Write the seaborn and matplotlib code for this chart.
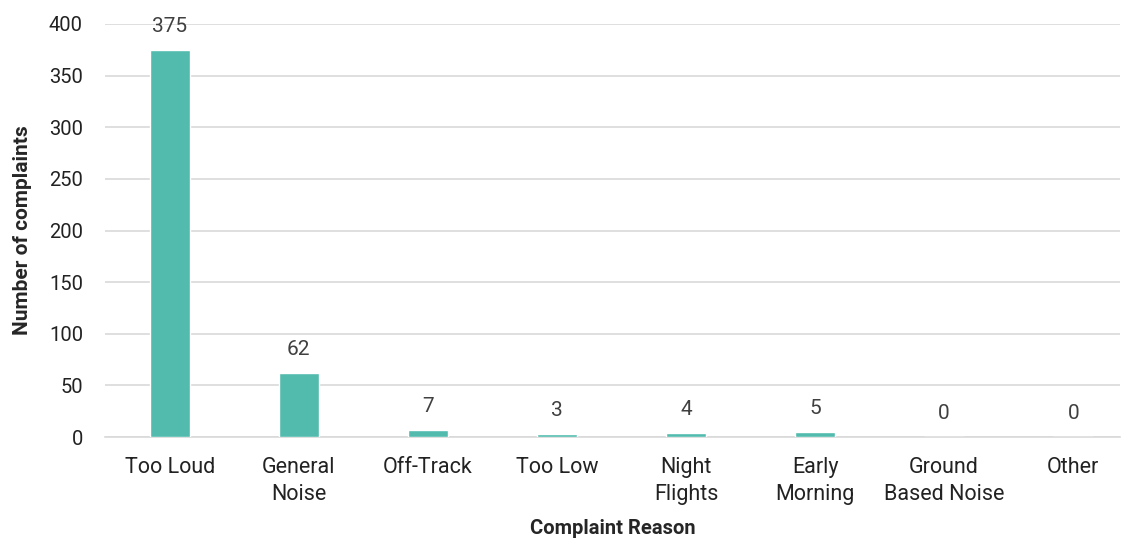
import matplotlib
matplotlib.use("Agg")
import matplotlib.pyplot as plt
import seaborn as sns
import pandas as pd

categories = ["Too Loud", "General\nNoise", "Off-Track", "Too Low", "Night\nFlights",
              "Early\nMorning", "Ground\nBased Noise", "Other"]
complaints = [375, 62, 7, 3, 4, 5, 0, 0]
yticks = [0, 50, 100, 150, 200, 250, 300, 350, 400]

sns.set_theme(style="white")
plt.rcParams['font.family'] = ['Roboto', 'DejaVu Sans']

df = pd.DataFrame({"reason": categories, "count": complaints})

fig = plt.figure(figsize=(11.31, 5.43), dpi=100)
ax = fig.add_axes([0.093, 0.195, 0.897, 0.761])
sns.barplot(data=df, x="reason", y="count", color="#52BBAE", width=0.31,
            saturation=1, ax=ax, zorder=3)

ax.set_xlim(-0.5, 7.36)
ax.set_ylim(0, 400)
ax.set_yticks(yticks)
ax.set_yticklabels([str(t) for t in yticks], fontsize=14.5, color="#222222")
ax.tick_params(axis="x", labelsize=15.5, colors="#222222", length=0, pad=14)
ax.tick_params(axis="y", length=0, pad=16)
for lbl in ax.get_xticklabels():
    lbl.set_linespacing(1.4)
ax.yaxis.grid(True, color="#D9D9D9", linewidth=1.2, zorder=0)
for s in ["top", "right", "left"]:
    ax.spines[s].set_visible(False)
ax.spines["bottom"].set_color("#D9D9D9")
ax.spines["bottom"].set_linewidth(1.2)

for i, v in enumerate(complaints):
    ax.annotate(str(v), (i, v), xytext=(0, 10), textcoords="offset points",
                ha="center", va="bottom", fontsize=15, color="#404040")

ax.set_xlabel("Complaint Reason", fontsize=14.5, fontweight="bold", labelpad=10)
ax.set_ylabel("Number of complaints", fontsize=15, fontweight="bold", labelpad=12)

fig.savefig("out.png", dpi=100)
